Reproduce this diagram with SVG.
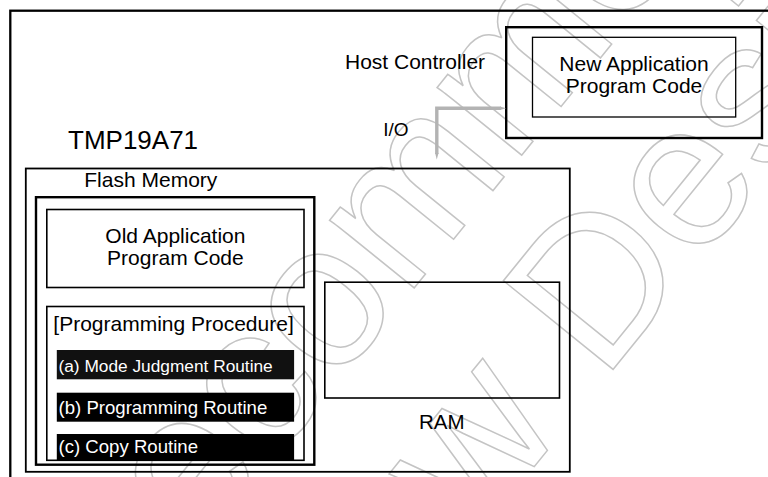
<svg xmlns="http://www.w3.org/2000/svg" width="768" height="477" viewBox="0 0 768 477">
  <style>
    .t { font-family: "Liberation Sans", Arial, sans-serif; fill: #000; }
    .box { fill: none; stroke: #000; }
    .thick { stroke-width: 2.4; }
    .thin { stroke-width: 1.6; }
    .bar { stroke: none; }
    .wt { font-family: "Liberation Sans", Arial, sans-serif; font-size: 205px; fill: none; stroke: #c4c4c4; stroke-width: 1.5; }
    .io { fill: none; stroke: #b3b3b3; stroke-width: 3.4; }
  </style>
  <rect x="0" y="0" width="768" height="477" fill="#fff"/>

  <g id="watermark">
    <text class="wt" transform="translate(104.2,671) rotate(-51)">Recommended</text>
    <text class="wt" transform="translate(308.6,745.5) rotate(-51)">New Design</text>
  </g>

  <g id="frame">
    <rect class="box" x="10.3" y="10.7" width="800" height="520" stroke-width="2.3"/>
  </g>

  <g id="host">
    <rect class="box thick" x="506.2" y="27.2" width="255.8" height="110.8"/>
    <text class="t" x="345" y="69.3" font-size="21">Host Controller</text>
  </g>

  <g id="new-app">
    <rect class="box" x="532.5" y="37.3" width="203.2" height="79.7" stroke-width="1.3"/>
    <text class="t" x="634" y="70.7" font-size="21" text-anchor="middle">New Application</text>
    <text class="t" x="634" y="93.3" font-size="21" text-anchor="middle">Program Code</text>
  </g>

  <g id="connectors">
    <polyline class="io" points="501,108.3 436.8,108.3 436.8,154"/>
    <polygon points="500,106.6 506,108.3 500,110" fill="#b3b3b3"/>
    <polygon points="435.1,153 438.5,153 436.8,159.5" fill="#b3b3b3"/>
    <text class="t" x="383.3" y="135.7" font-size="19">I/O</text>
  </g>

  <g id="chip">
    <text class="t" x="68" y="149" font-size="26">TMP19A71</text>
    <rect class="box" x="25.8" y="168.5" width="544" height="303.3" stroke-width="1.8"/>
  </g>

  <g id="flash">
    <text class="t" x="84.3" y="186.7" font-size="21">Flash Memory</text>
    <rect class="box thick" x="36" y="197.2" width="278.3" height="267.5"/>
  </g>

  <g id="old-app">
    <rect class="box thin" x="46.8" y="209.5" width="257.2" height="78"/>
    <text class="t" x="175.4" y="243.3" font-size="21" text-anchor="middle">Old Application</text>
    <text class="t" x="175.4" y="265.3" font-size="21" text-anchor="middle">Program Code</text>
  </g>

  <g id="procedure">
    <text class="t" x="53.3" y="331" font-size="21">[Programming Procedure]</text>
    <rect class="bar" x="56.8" y="350" width="237.3" height="29.3" fill="#111"/>
    <text class="t" x="58.5" y="372.3" font-size="17.3" style="fill:#fff">(a) Mode Judgment Routine</text>
    <rect class="bar" x="56.8" y="392.7" width="237.3" height="29" fill="#000"/>
    <text class="t" x="58.5" y="414" font-size="18.6" style="fill:#fff">(b) Programming Routine</text>
    <rect class="bar" x="56.8" y="434" width="237.3" height="26.3" fill="#000"/>
    <text class="t" x="58.5" y="453.3" font-size="18.6" style="fill:#fff">(c) Copy Routine</text>
    <rect class="box thin" x="46.8" y="306.5" width="257.2" height="153.8"/>
  </g>

  <g id="ram">
    <rect class="box thin" x="324.8" y="282.2" width="234.7" height="115.8"/>
    <text class="t" x="419" y="428.7" font-size="20.5">RAM</text>
  </g>
</svg>
